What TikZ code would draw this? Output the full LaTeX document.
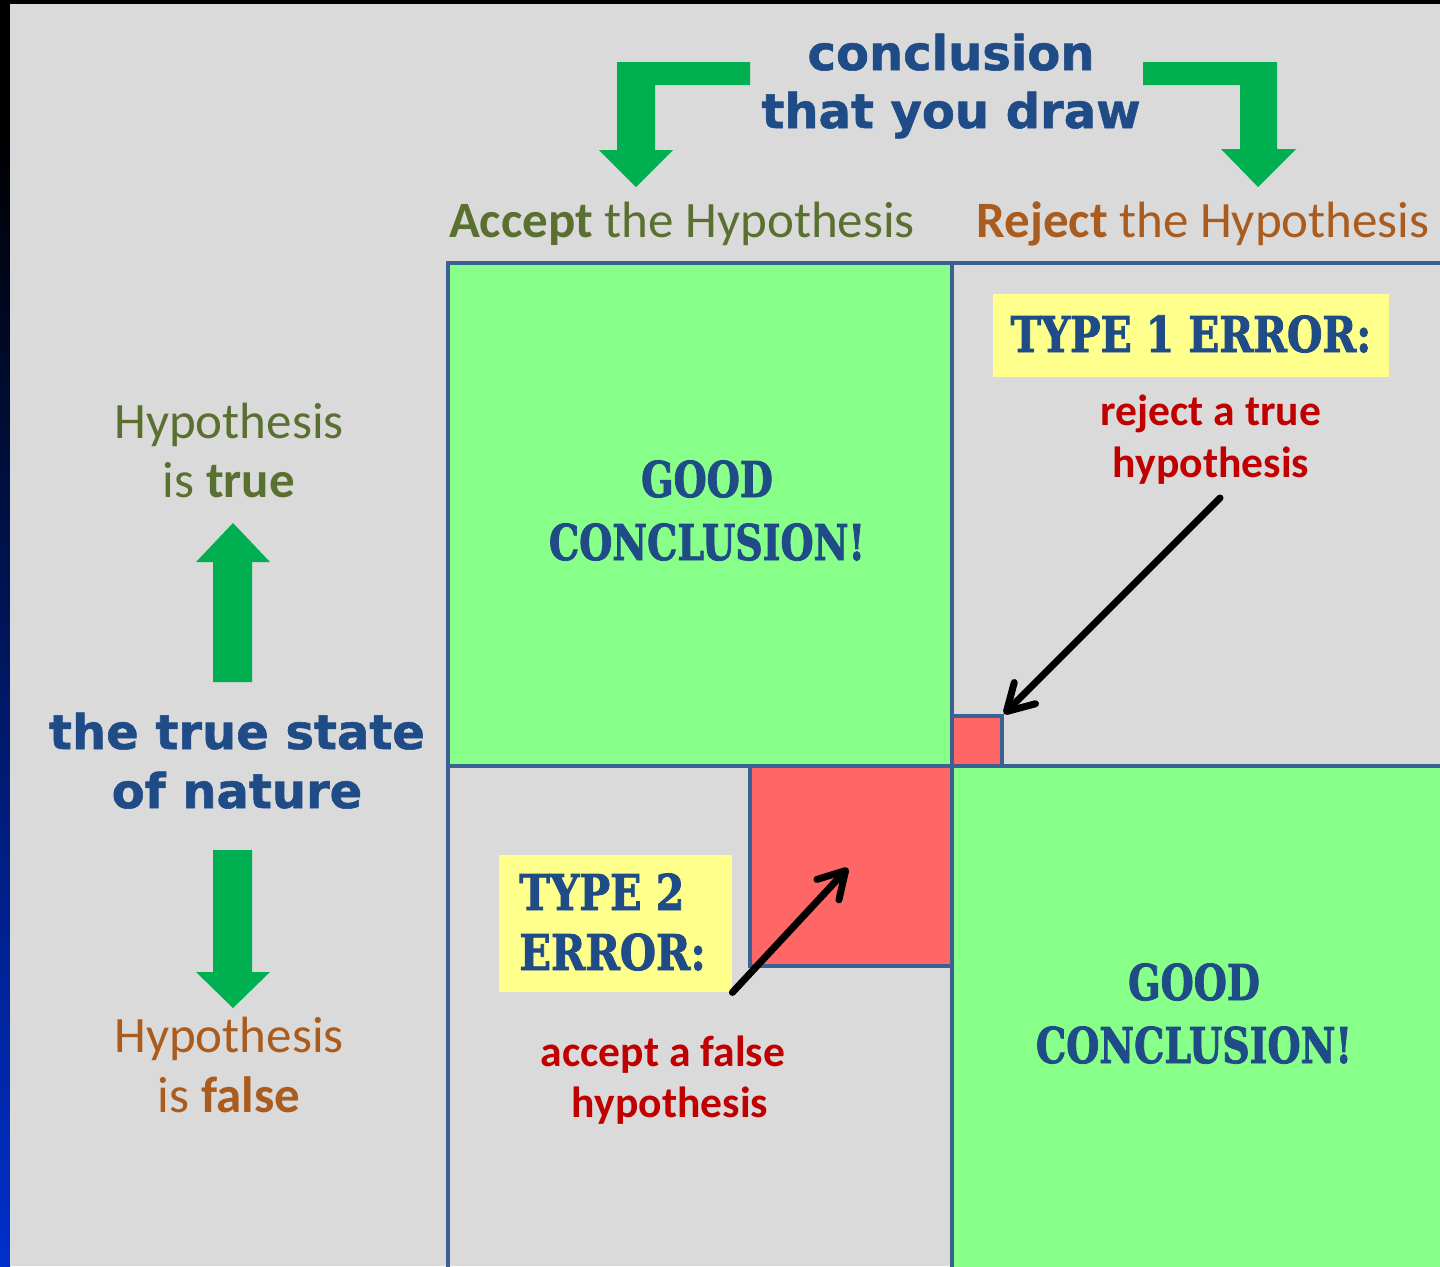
\documentclass[tikz,border=0pt]{standalone}
\usepackage{fontspec}
\setmainfont{Carlito}
\newfontfamily\hdfont[FakeBold=1.2]{DejaVu Sans}
\newfontfamily\stfont[FakeStretch=0.77,FakeBold=1.6]{DejaVu Serif}
\usetikzlibrary{arrows.meta}
\definecolor{bggray}{RGB}{218,218,218}
\definecolor{stripblue}{RGB}{0,48,204}
\definecolor{cellgreen}{RGB}{136,255,136}
\definecolor{cellred}{RGB}{255,102,102}
\definecolor{boxyellow}{RGB}{255,255,140}
\definecolor{gridblue}{RGB}{60,96,145}
\definecolor{arrgreen}{RGB}{0,176,80}
\definecolor{navy}{RGB}{31,75,135}
\definecolor{errred}{RGB}{192,0,0}
\definecolor{olive}{RGB}{90,112,48}
\definecolor{brown}{RGB}{170,92,30}
\tikzset{
  grid/.style={draw=gridblue, line width=2pt},
  txt/.style={inner sep=0pt, anchor=base},
  calib/.style={txt, font=\fontsize{25.5}{30}\selectfont},
  redtxt/.style={txt, text=errred, font=\fontsize{21.8}{26}\selectfont\bfseries},
  head/.style={txt, text=navy, font=\hdfont\bfseries\fontsize{24}{28}\selectfont},
  stencil/.style={txt, text=navy, font=\stfont\bfseries\fontsize{24.7}{30}\selectfont},
  ybox/.style={fill=boxyellow, draw=none, inner sep=0pt},
  redsq/.style={grid, fill=cellred, inner sep=0pt},
  garrow/.style={fill=arrgreen},
  pointer/.style={line width=3.5pt, draw=black, line cap=round,
    -{Straight Barb[length=13pt, width=15pt, round]}}
}
\begin{document}
\begin{tikzpicture}[x=0.5pt, y=-0.5pt]
\useasboundingbox (0,0) rectangle (1440,1266);
% frame and background
\fill[black] (0,0) rectangle (1440,1266);
\shade[top color=black, bottom color=stripblue] (0,130) rectangle (10,1266);
\fill[bggray] (10,4) rectangle (1440,1266);

% cells
\fill[cellgreen] (448,263) rectangle (952,766);
\fill[cellgreen] (952,766) rectangle (1445,1270);
\draw[grid] (448,1270) -- (448,263) -- (1445,263);
\draw[grid] (952,263) -- (952,1270);
\draw[grid] (448,766) -- (1445,766);
\node[redsq, minimum width=25pt, minimum height=25pt] (sq1) at (977,741) {};
\node[redsq, minimum width=101pt, minimum height=100pt] (sq2) at (851,866) {};

% green arrows (top)
\fill[garrow] (750,62) -- (617,62) -- (617,150) -- (599,150) -- (636,187)
  -- (673,150) -- (655,150) -- (655,85) -- (750,85) -- cycle;
\fill[garrow] (1143,62) -- (1277,62) -- (1277,149) -- (1296,149) -- (1258,187)
  -- (1221,149) -- (1240,149) -- (1240,85) -- (1143,85) -- cycle;
% green arrows (left)
\fill[garrow] (233,523) -- (270,562) -- (252,562) -- (252,682) -- (213,682)
  -- (213,562) -- (196,562) -- cycle;
\fill[garrow] (213,850) -- (252,850) -- (252,972) -- (270,972) -- (233,1008)
  -- (196,972) -- (213,972) -- cycle;

% top heading
\node[head] (concl) at (951,70) {conclusion};
\node[head] (draw) at (951,128) {that you draw};
\node[calib, text=olive] (acc) at (682,237) {{\bfseries Accept} the Hypothesis};
\node[calib, text=brown] (rej) at (1203,237) {{\bfseries Reject} the Hypothesis};

% left side
\node[calib, text=olive] (htrue) at (229,438) {Hypothesis};
\node[calib, text=olive] (istrue) at (229,497) {is {\bfseries true}};
\node[head] (state1) at (237,749) {the true state};
\node[head] (state2) at (237,808) {of nature};
\node[calib, text=brown] (hfalse) at (229,1052) {Hypothesis};
\node[calib, text=brown] (isfalse) at (229,1112) {is {\bfseries false}};

% good conclusions
\node[stencil] (good1) at (707,497) {GOOD};
\node[stencil] (gc1) at (707,560) {CONCLUSION!};
\node[stencil] (good2) at (1194,1000) {GOOD};
\node[stencil] (gc2) at (1194,1063) {CONCLUSION!};

% type 1
\node[ybox, minimum width=198pt, minimum height=41.5pt] (t1box) at (1191,335.5) {};
\node[stencil] (t1) at (1191,352) {\scalebox{1.07}[1]{TYPE 1 ERROR:}};
\node[redtxt] (r1a) at (1211,425) {reject a true};
\node[redtxt] (r1b) at (1211,477) {hypothesis};
\coordinate (p1) at (1220,498);
\draw[pointer] (p1) -- (sq1.north east);

% type 2
\node[ybox, minimum width=116.5pt, minimum height=68.5pt] (t2box) at (615.5,923.5) {};
\node[stencil, anchor=base west] (t2a) at (519,910) {\scalebox{1.08}[1]{TYPE 2}};
\node[stencil, anchor=base west] (t2b) at (519,970) {\scalebox{1.09}[1]{ERROR:}};
\node[redtxt] (r2a) at (663,1066) {accept a false};
\node[redtxt] (r2b) at (670,1117) {hypothesis};
\coordinate (p2) at (848,868);
\draw[pointer] (t2box.south east) -- (p2);
\end{tikzpicture}
\end{document}
